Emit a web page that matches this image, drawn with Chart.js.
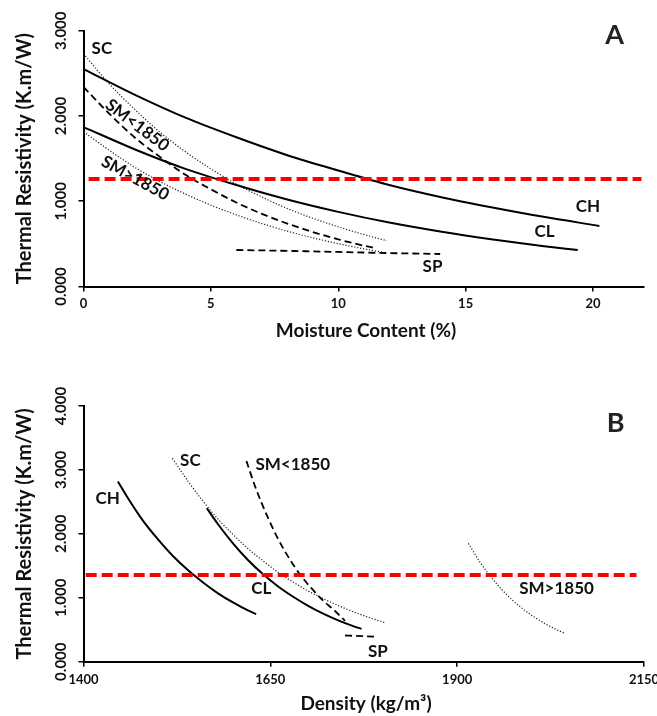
<!DOCTYPE html>
<html>
<head>
<meta charset="utf-8">
<script src="https://cdn.jsdelivr.net/npm/chart.js@4/dist/chart.umd.min.js"></script>
<style>
  html, body { margin: 0; padding: 0; background: #fff; }
  .panel { width: 657px; height: 358px; }
</style>
</head>
<body>
<div class="panel"><canvas id="chartA" width="657" height="358"></canvas></div>
<div class="panel"><canvas id="chartB" width="657" height="358"></canvas></div>
<script>
// Panel A: thermal resistivity vs moisture content (%)
const moistCH = [0, 2, 4, 6, 8, 10, 12, 14, 16, 18, 20.25];
const resMoistCH = [2.55, 2.25, 1.98, 1.75, 1.54, 1.36, 1.19, 1.05, 0.93, 0.82, 0.71];
const moistCL = [0, 2, 4, 6, 8, 10, 12, 14, 16, 18, 19.4];
const resMoistCL = [1.87, 1.61, 1.38, 1.19, 1.02, 0.875, 0.75, 0.645, 0.555, 0.476, 0.428];
const moistSC = [0, 1, 2, 3, 4, 5, 6, 7, 8, 9, 10, 11, 11.9];
const resMoistSC = [2.73, 2.38, 2.08, 1.81, 1.58, 1.38, 1.20, 1.05, 0.915, 0.80, 0.70, 0.61, 0.537];
const moistSMlo = [0, 1, 2, 3, 4, 5, 6, 7, 8, 9, 10, 11, 11.5];
const resMoistSMlo = [2.34, 2.03, 1.75, 1.52, 1.31, 1.14, 0.985, 0.852, 0.738, 0.639, 0.553, 0.479, 0.448];
const moistSMhi = [0, 1, 2, 3, 4, 5, 6, 7, 8, 9, 10, 11, 11.85];
const resMoistSMhi = [1.815, 1.60, 1.40, 1.23, 1.085, 0.954, 0.84, 0.738, 0.649, 0.571, 0.502, 0.442, 0.396];
const moistSP = [6, 8, 10, 12, 14];
const resMoistSP = [0.428, 0.418, 0.405, 0.392, 0.381];
const moistLimit = [0.2, 21.9];
const resLimitA = [1.26, 1.26];
const ticksMoist = [0, 5, 10, 15, 20];
const ticksResA = [0, 1, 2, 3];

// Panel B: thermal resistivity vs density (kg/m3)
const densCH = [1446, 1460, 1480, 1500, 1520, 1540, 1560, 1580, 1600, 1620, 1631];
const resDensCH = [2.82, 2.55, 2.20, 1.91, 1.65, 1.43, 1.24, 1.07, 0.927, 0.802, 0.745];
const densCL = [1565, 1580, 1600, 1620, 1640, 1660, 1680, 1700, 1720, 1740, 1760, 1772];
const resDensCL = [2.40, 2.15, 1.85, 1.59, 1.37, 1.18, 1.02, 0.878, 0.756, 0.651, 0.561, 0.513];
const densSC = [1519, 1540, 1560, 1580, 1600, 1620, 1640, 1660, 1680, 1700, 1720, 1740, 1760, 1780, 1804];
const resDensSC = [3.18, 2.82, 2.51, 2.23, 1.99, 1.77, 1.58, 1.40, 1.25, 1.11, 0.991, 0.883, 0.786, 0.70, 0.608];
const densSMlo = [1618, 1630, 1645, 1660, 1675, 1690, 1705, 1720, 1735, 1750];
const resDensSMlo = [3.14, 2.73, 2.30, 1.93, 1.62, 1.36, 1.15, 0.963, 0.809, 0.64];
const densSMhi = [1915, 1930, 1945, 1960, 1975, 1990, 2005, 2020, 2032, 2044];
const resDensSMhi = [1.85, 1.567, 1.328, 1.125, 0.953, 0.807, 0.684, 0.579, 0.507, 0.444];
const densSP = [1750, 1793];
const resDensSP = [0.41, 0.39];
const densLimit = [1403, 2140];
const resLimitB = [1.355, 1.355];
const ticksDens = [1400, 1650, 1900, 2150];
const ticksResB = [0, 1, 2, 3, 4];

const FONT = 'Lato, "Open Sans", sans-serif';
const pts = (xs, ys) => xs.map((x, i) => ({ x: x, y: ys[i] }));

// line looks
const solid = { borderColor: '#000', borderWidth: 2 };
const dotted = { borderColor: '#222', borderWidth: 1.2, borderDash: [1.2, 1.8] };
const dashed = { borderColor: '#000', borderWidth: 1.8, borderDash: [7, 4] };
const limit = { borderColor: '#ff0000', borderWidth: 4, borderDash: [11, 5] };

function ds(data, look) {
    return Object.assign({
        data: data,
        pointRadius: 0,
        fill: false,
        tension: 0.4,
        cubicInterpolationMode: 'monotone'
    }, look);
}

// draws rotated y tick labels, titles and curve labels
const panelText = {
    id: 'panelText',
    afterDraw(chart, args, o) {
        const { ctx, chartArea, scales: { x, y } } = chart;
        ctx.save();
        ctx.fillStyle = '#111';
        ctx.textAlign = 'center';
        ctx.textBaseline = 'middle';

        ctx.font = 'bold 15px ' + FONT;
        y.ticks.forEach(t => {
            ctx.save();
            ctx.translate(61, y.getPixelForValue(t.value));
            ctx.rotate(-Math.PI / 2);
            ctx.fillText(t.value.toFixed(3), 0, 0);
            ctx.restore();
        });

        ctx.font = 'bold 20px ' + FONT;
        ctx.save();
        ctx.translate(25, (chartArea.top + chartArea.bottom) / 2);
        ctx.rotate(-Math.PI / 2);
        ctx.fillText('Thermal Resistivity (K.m/W)', 0, 0);
        ctx.restore();

        ctx.font = 'bold 19px ' + FONT;
        ctx.fillText(o.xTitle, 366, o.xTitleY);

        ctx.font = 'bold 17px ' + FONT;
        o.labels.forEach(l => {
            ctx.save();
            ctx.translate(x.getPixelForValue(l[1]), y.getPixelForValue(l[2]));
            ctx.rotate((l[3] || 0) * Math.PI / 180);
            ctx.fillText(l[0], 0, 0);
            ctx.restore();
        });

        ctx.font = 'bold 27px ' + FONT;
        ctx.fillStyle = '#222';
        ctx.fillText(o.letter[0], x.getPixelForValue(o.letter[1]), y.getPixelForValue(o.letter[2]));
        ctx.restore();
    }
};

function makeChart(id, cfg) {
    return new Chart(document.getElementById(id), {
        type: 'line',
        data: { datasets: cfg.datasets },
        options: {
            responsive: false,
            animation: false,
            parsing: false,
            layout: { padding: { top: cfg.top, right: 13, left: 0, bottom: 0 } },
            plugins: {
                legend: { display: false },
                tooltip: { enabled: false },
                panelText: { xTitle: cfg.xTitle, xTitleY: cfg.xTitleY, labels: cfg.labels, letter: cfg.letter }
            },
            scales: {
                x: {
                    type: 'linear',
                    min: cfg.xMin,
                    max: cfg.xMax,
                    afterBuildTicks: s => { s.ticks = cfg.xTicks.map(v => ({ value: v })); },
                    afterFit: s => { s.height = cfg.xAxisH; s.paddingLeft = 0; s.paddingRight = 0; },
                    border: { color: '#000', width: 2 },
                    grid: { drawOnChartArea: false, color: '#000', lineWidth: 1.5, tickLength: 5 },
                    ticks: {
                        color: '#111', padding: 5, maxRotation: 0,
                        callback: v => String(v),
                        font: { family: FONT, size: 13, weight: 'bold' }
                    }
                },
                y: {
                    type: 'linear',
                    min: cfg.yMin,
                    max: cfg.yMax,
                    afterBuildTicks: s => { s.ticks = cfg.yTicks.map(v => ({ value: v })); },
                    afterFit: s => { s.width = 83.5; },
                    border: { color: '#000', width: 2 },
                    grid: { drawOnChartArea: false, color: '#000', lineWidth: 1.5, tickLength: 5 },
                    ticks: { display: false }
                }
            }
        },
        plugins: [panelText]
    });
}

makeChart('chartA', {
    datasets: [
        ds(pts(moistLimit, resLimitA), limit),
        ds(pts(moistCH, resMoistCH), solid),
        ds(pts(moistCL, resMoistCL), solid),
        ds(pts(moistSC, resMoistSC), dotted),
        ds(pts(moistSMlo, resMoistSMlo), dashed),
        ds(pts(moistSMhi, resMoistSMhi), dotted),
        ds(pts(moistSP, resMoistSP), dashed)
    ],
    xMin: 0, xMax: 22, xTicks: ticksMoist,
    yMin: 0, yMax: 3, yTicks: ticksResA,
    top: 30.7, xAxisH: 71.5,
    xTitle: 'Moisture Content (%)', xTitleY: 331,
    labels: [
        ['SC', 0.72, 2.79],
        ['SM<1850', 2.11, 1.89, 37],
        ['SM>1850', 2.03, 1.27, 29],
        ['CH', 19.8, 0.935],
        ['CL', 18.1, 0.642],
        ['SP', 13.7, 0.232]
    ],
    letter: ['A', 20.85, 2.95]
});

makeChart('chartB', {
    datasets: [
        ds(pts(densLimit, resLimitB), limit),
        ds(pts(densCH, resDensCH), solid),
        ds(pts(densCL, resDensCL), solid),
        ds(pts(densSC, resDensSC), dotted),
        ds(pts(densSMlo, resDensSMlo), dashed),
        ds(pts(densSMhi, resDensSMhi), dotted),
        ds(pts(densSP, resDensSP), dashed)
    ],
    xMin: 1400, xMax: 2150, xTicks: ticksDens,
    yMin: 0, yMax: 4, yTicks: ticksResB,
    top: 48, xAxisH: 54.3,
    xTitle: 'Density (kg/m³)', xTitleY: 346,
    labels: [
        ['CH', 1432.5, 2.55],
        ['SC', 1543, 3.15],
        ['SM<1850', 1680, 3.09],
        ['CL', 1638, 1.15],
        ['SP', 1794, 0.16],
        ['SM>1850', 2033, 1.15]
    ],
    letter: ['B', 2112, 3.73]
});
</script>
</body>
</html>
